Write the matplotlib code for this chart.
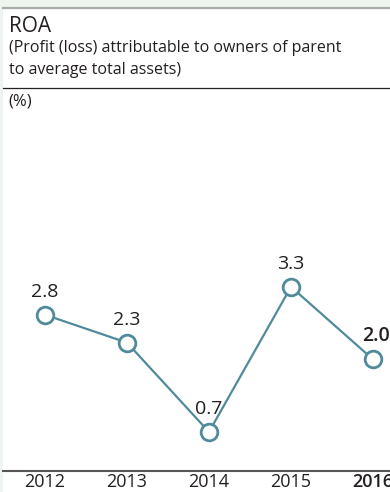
import matplotlib
matplotlib.use("Agg")
import matplotlib.pyplot as plt
from matplotlib.lines import Line2D
from matplotlib.patches import Rectangle

years = ["2012", "2013", "2014", "2015", "2016"]
roa = [2.8, 2.3, 0.7, 3.3, 2.0]
labels = ["2.8", "2.3", "0.7", "3.3", "2.0"]

plt.rcParams['font.family'] = ['Open Sans', 'DejaVu Sans']

W, H = 390, 492
fig = plt.figure(figsize=(W / 100, H / 100), dpi=100)
fig.patch.set_facecolor("white")

# light green frame strips
fig.add_artist(Rectangle((0, 0), 3 / W, 1, transform=fig.transFigure, color="#eef5ee", lw=0, zorder=0))
fig.add_artist(Rectangle((0, 1 - 7 / H), 1, 7 / H, transform=fig.transFigure, color="#eef5ee", lw=0, zorder=0))
fig.add_artist(Line2D([3 / W, 1], [1 - 8 / H, 1 - 8 / H], transform=fig.transFigure, color="#a8aca8", lw=1.6))
fig.add_artist(Line2D([3 / W, 1], [1 - 88 / H, 1 - 88 / H], transform=fig.transFigure, color="#222222", lw=0.9))

txt = "#231f20"
fig.text(9 / W, 1 - 26 / H, "ROA", fontsize=15, color=txt, va="center", ha="left")
fig.text(9 / W, 1 - 48 / H, "(Profit (loss) attributable to owners of parent", fontsize=11.5, color=txt, va="center", ha="left")
fig.text(9 / W, 1 - 70 / H, "to average total assets)", fontsize=11.5, color=txt, va="center", ha="left")
fig.text(8 / W, 1 - 101 / H, "(%)", fontsize=12, color=txt, va="center", ha="left")

# axes: pixel x = 45 + 82*i, zero at y=471, 55.8 px per unit
x_left, x_right = 3, 390
y_bot, y_top = 471, 110
ax = fig.add_axes([x_left / W, 1 - y_bot / H, (x_right - x_left) / W, (y_bot - y_top) / H])
ax.set_facecolor("none")
ax.set_xlim((x_left - 45) / 82, (x_right - 45) / 82)
ax.set_ylim(0, (y_bot - y_top) / 55.8)

xs = list(range(len(years)))
color = "#4f8b9b"
ax.plot(xs, roa, color=color, lw=1.6, marker="o", markersize=12, markerfacecolor="white",
        markeredgecolor=color, markeredgewidth=2.0, zorder=3, clip_on=False)

for i, (v, lab) in enumerate(zip(roa, labels)):
    bold = i == len(roa) - 1
    ax.annotate(lab, (i, v), xytext=(2 if bold else 0, 16.5), textcoords="offset points",
                ha="center", va="center", fontsize=14, color=txt,
                fontweight="semibold" if bold else "normal", annotation_clip=False)

for s in ["top", "left", "right"]:
    ax.spines[s].set_visible(False)
ax.spines["bottom"].set_color("#555555")
ax.spines["bottom"].set_linewidth(1.5)
ax.set_yticks([])
ax.set_xticks(xs)
ax.set_xticklabels(years, fontsize=13, color=txt)
ax.tick_params(axis="x", length=0, pad=1.5)
ax.get_xticklabels()[-1].set_fontweight("semibold")

fig.savefig("out.png", dpi=100, facecolor=fig.get_facecolor())
